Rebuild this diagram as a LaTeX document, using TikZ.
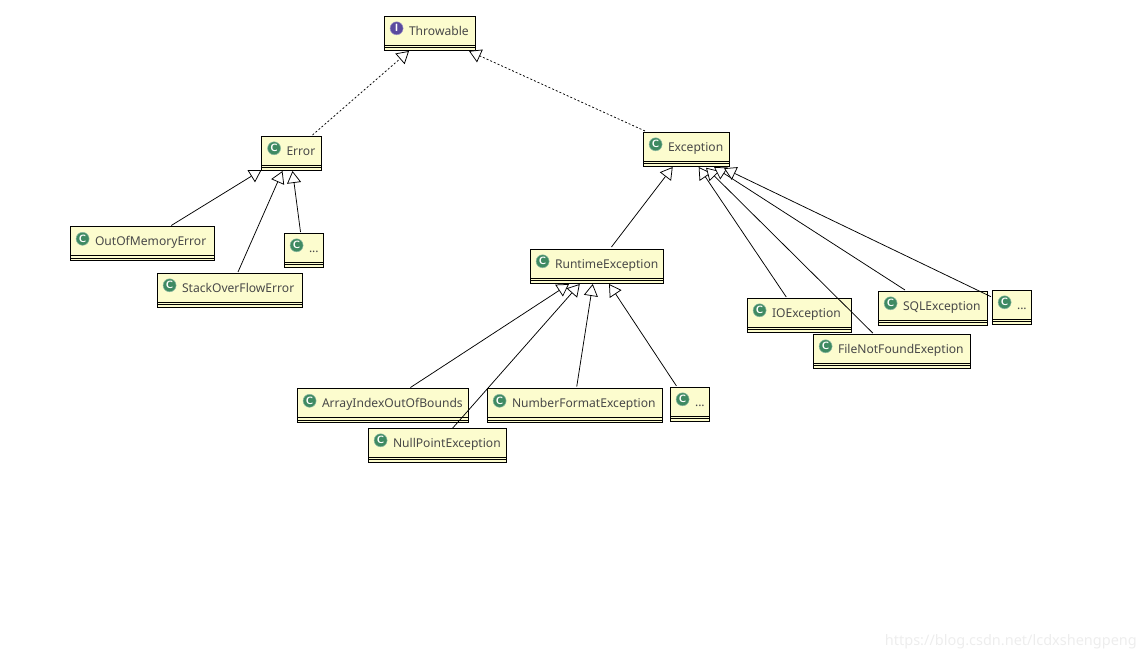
\documentclass[tikz,border=0pt]{standalone}
\usepackage{fontspec}
\setmainfont{Noto Sans}
\usetikzlibrary{arrows.meta}
\definecolor{classyellow}{HTML}{FCFCCE}
\definecolor{classtext}{HTML}{484848}
\definecolor{classgreen}{HTML}{3F8A62}
\definecolor{ifacepurple}{HTML}{5A4A9E}
\tikzset{
  classbox/.style={draw=black, line width=.9pt, fill=classyellow, text=classtext,
    font=\fontsize{12.1}{14}\selectfont, inner sep=0pt, outer sep=0pt, anchor=north west,
    text width=#1, align=left, text height=19.3pt, text depth=14.7pt,
    execute at begin node={\hspace*{25pt}}},
  iconbadge/.style={circle, fill=#1, draw=#1!60, line width=.5pt, text=white, inner sep=0pt,
    minimum size=13pt, font=\sffamily\bfseries\fontsize{10.5}{10.5}\selectfont},
  extendsedge/.style={line width=.75pt, -{Triangle[fill=white,length=12pt,width=14pt,line width=.75pt]}},
  implementsedge/.style={extendsedge, dash pattern=on 2pt off 2pt},
  watermark/.style={text=black!7, font=\fontsize{14.5}{17}\selectfont, anchor=south east, inner sep=0pt}
}
\begin{document}
\begin{tikzpicture}[x=1pt,y=-1pt]
  \useasboundingbox (0,0) rectangle (1146,658);
  \draw
    (384,16) node[classbox=91pt] (throwable){Throwable}
    (261.5,136) node[classbox=60pt] (error){Error}
    (643,132) node[classbox=86pt] (exception){Exception}
    (70,226.5) node[classbox=144.5pt] (outofmemory){OutOfMemoryError}
    (157,273) node[classbox=145pt] (stackoverflow){StackOverFlowError}
    (284,233) node[classbox=39pt] (errormore){...}
    (530,249) node[classbox=133.5pt] (runtime){RuntimeException}
    (747,298) node[classbox=104.5pt] (ioexc){IOException}
    (813,334) node[classbox=157.5pt] (filenotfound){FileNotFoundExeption}
    (878,291) node[classbox=109pt] (sqlexc){SQLException}
    (992,290) node[classbox=39.5pt] (exceptionmore){...}
    (297,388.5) node[classbox=171.5pt] (arrayindex){ArrayIndexOutOfBounds}
    (368,428) node[classbox=138.5pt] (nullpoint){NullPointException}
    (487,388.5) node[classbox=175.5pt] (numberformat){NumberFormatException}
    (670,387) node[classbox=39.5pt] (runtimemore){...};
  \foreach \name in {throwable,error,exception,outofmemory,stackoverflow,errormore,runtime,ioexc,
      filenotfound,sqlexc,exceptionmore,arrayindex,nullpoint,numberformat,runtimemore} {
    \draw[line width=.9pt] ([yshift=5pt]\name.south west) to ([yshift=5pt]\name.south east);
    \draw[line width=.9pt] ([yshift=2.5pt]\name.south west) to ([yshift=2.5pt]\name.south east);
  }
  \foreach \name in {error,exception,outofmemory,stackoverflow,errormore,runtime,ioexc,
      filenotfound,sqlexc,exceptionmore,arrayindex,nullpoint,numberformat,runtimemore}
    \node[iconbadge=classgreen] (\name icon) at ([xshift=12.6pt,yshift=-12.3pt]\name.north west) {C};
  \node[iconbadge=ifacepurple] (throwable icon) at ([xshift=12.6pt,yshift=-12.3pt]throwable.north west) {I};
  \begin{scope}[implementsedge]
    \draw ([xshift=21pt,yshift=1pt]error.north) to ([xshift=-20.5pt,yshift=-1pt]throwable.south);
    \draw ([xshift=-41pt,yshift=1pt]exception.north) to ([xshift=39.5pt,yshift=-1pt]throwable.south);
  \end{scope}
  \begin{scope}[extendsedge]
    \draw ([xshift=29pt,yshift=1pt]outofmemory.north) to ([xshift=-30pt]error.south);
    \draw ([xshift=8.5pt,yshift=1pt]stackoverflow.north) to ([xshift=-9pt,yshift=-1pt]error.south);
    \draw ([xshift=-3pt,yshift=1pt]errormore.north) to ([xshift=1pt,yshift=-1pt]error.south);
    \draw ([xshift=14.7pt,yshift=2pt]runtime.north) to ([xshift=-13.3pt,yshift=-1pt]exception.south);
    \draw ([xshift=-13pt,yshift=1pt]ioexc.north) to ([xshift=12.7pt,yshift=-1pt]exception.south);
    \draw ([xshift=-19pt,yshift=1pt]filenotfound.north) to ([xshift=20pt,yshift=-1.7pt]exception.south);
    \draw ([xshift=-27.5pt,yshift=1pt]sqlexc.north) to ([xshift=28pt,yshift=-1pt]exception.south);
    \draw ([xshift=-1pt,yshift=-6.7pt]exceptionmore.north west) to ([xshift=38pt,yshift=-2.3pt]exception.south);
    \draw ([xshift=27.7pt,yshift=1pt]arrayindex.north) to ([xshift=-27.7pt,yshift=-1pt]runtime.south);
    \draw ([xshift=15.5pt]nullpoint.north) to ([xshift=-17pt,yshift=-1pt]runtime.south);
    \draw ([xshift=2pt,yshift=2pt]numberformat.north) to ([xshift=-4pt,yshift=-1pt]runtime.south);
    \draw ([xshift=-13.3pt,yshift=1pt]runtimemore.north) to ([xshift=12.3pt,yshift=-1pt]runtime.south);
  \end{scope}
  \node[watermark] (blogurl) at (1137,649) {https://blog.csdn.net/lcdxshengpeng};
\end{tikzpicture}
\end{document}
